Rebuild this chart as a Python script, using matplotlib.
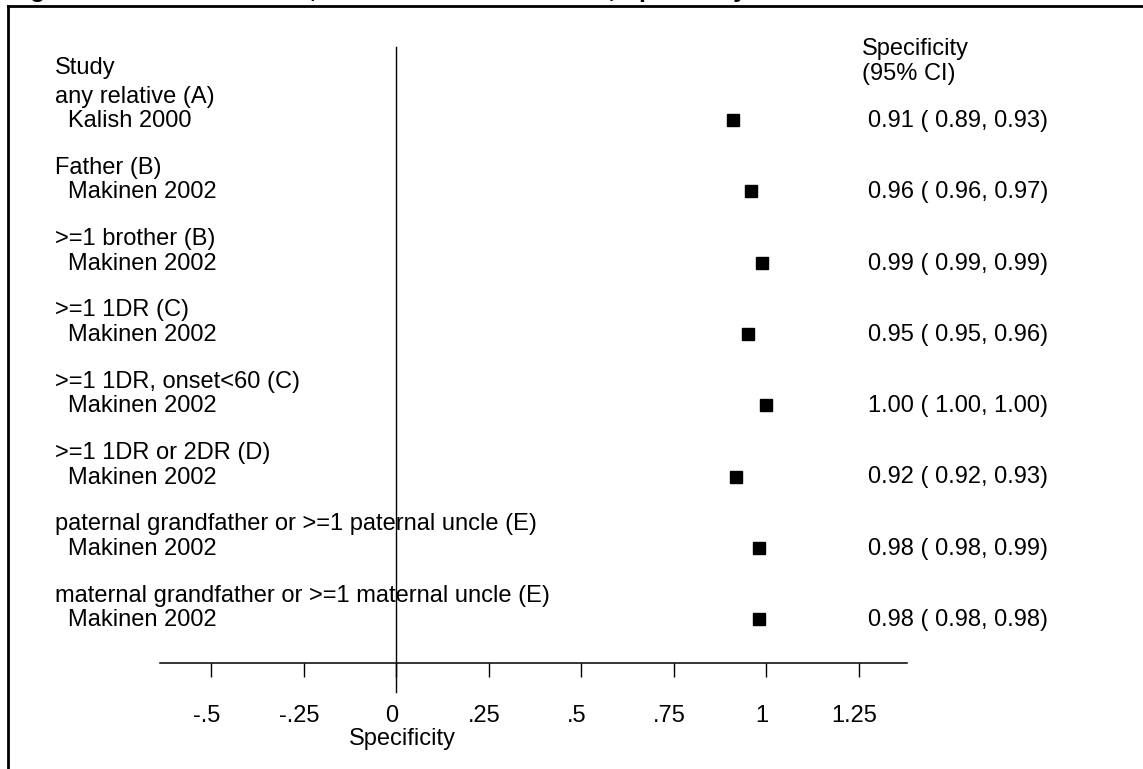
import matplotlib
matplotlib.use("Agg")
import matplotlib.pyplot as plt
from matplotlib.lines import Line2D
from matplotlib.transforms import ScaledTranslation

plt.rcParams['font.family'] = ['Liberation Sans', 'DejaVu Sans']

# ---- data ----
groups = ["any relative (A)", "Father (B)", ">=1 brother (B)", ">=1 1DR (C)",
          ">=1 1DR, onset<60 (C)", ">=1 1DR or 2DR (D)",
          "paternal grandfather or >=1 paternal uncle (E)",
          "maternal grandfather or >=1 maternal uncle (E)"]
studies = ["Kalish 2000", "Makinen 2002", "Makinen 2002", "Makinen 2002",
           "Makinen 2002", "Makinen 2002", "Makinen 2002", "Makinen 2002"]
spec = [0.91, 0.96, 0.99, 0.95, 1.00, 0.92, 0.98, 0.98]
lo = [0.89, 0.96, 0.99, 0.95, 1.00, 0.92, 0.98, 0.98]
hi = [0.93, 0.97, 0.99, 0.96, 1.00, 0.93, 0.99, 0.98]
xticks = [-0.5, -0.25, 0, 0.25, 0.5, 0.75, 1, 1.25]
xticklabels = ["-.5", "-.25", "0", ".25", ".5", ".75", "1", "1.25"]
title = "Figure 4. Prostate Cancer, Cross-sectional Studies, Specificity"

W, H = 1143, 769
fig = plt.figure(figsize=(W / 100, H / 100), dpi=100)

# layout in pixels
ax_left, ax_right = 160, 907
ax_bottom, ax_top = 663, 40
x0_px, x1_px = 396, 766  # pixel of data 0 and 1
scale = x1_px - x0_px
xmin = (ax_left - x0_px) / scale
xmax = (ax_right - x0_px) / scale

ax = fig.add_axes([ax_left / W, 1 - ax_bottom / H, (ax_right - ax_left) / W,
                   (ax_bottom - ax_top) / H])
ax.set_xlim(xmin, xmax)
ax.set_ylim(ax_bottom, ax_top)  # y in pixel-like units, downward
for s in ["top", "right", "left"]:
    ax.spines[s].set_visible(False)
ax.spines["bottom"].set_linewidth(1.1)
ax.set_yticks([])
ax.set_xticks(xticks)
ax.set_xticklabels(xticklabels, fontsize=17)
ax.tick_params(axis="x", direction="out", length=10, width=1.0, pad=20)
off = ScaledTranslation(-4 / 100, 0, fig.dpi_scale_trans)
for lab in ax.get_xticklabels():
    lab.set_transform(lab.get_transform() + off)
ax.patch.set_visible(False)

# vertical reference line at 0
ax.plot([0, 0], [47, 692], color="black", lw=1.0, clip_on=False)

step = 71.3
row_y = [120 + i * step for i in range(len(spec))]
ax.plot(spec, row_y, linestyle="none", marker="s", ms=8.5, color="black",
        clip_on=False)

# overlay for text
ov = fig.add_axes([0, 0, 1, 1])
ov.set_xlim(0, W)
ov.set_ylim(H, 0)
ov.axis("off")
ov.patch.set_visible(False)

fs = 17
ov.text(55, 74, "Study", fontsize=fs, va="baseline", ha="left")
ov.text(862, 55.5, "Specificity", fontsize=fs, va="baseline", ha="left")
ov.text(862, 80, "(95% CI)", fontsize=fs, va="baseline", ha="left")
for i, (g, st, v, l, h) in enumerate(zip(groups, studies, spec, lo, hi)):
    yb = 127 + i * step
    ov.text(55, yb - 24.5, g, fontsize=fs, va="baseline", ha="left")
    ov.text(68, yb, st, fontsize=fs, va="baseline", ha="left")
    ov.text(868, yb, f"{v:.2f} ( {l:.2f}, {h:.2f})", fontsize=fs,
            va="baseline", ha="left")

ov.text(402, 745, "Specificity", fontsize=fs, va="baseline", ha="center")

# frame and cut-off title
ov.add_line(Line2D([8, W], [6, 6], color="black", lw=2.0))
ov.add_line(Line2D([8, 8], [6, H], color="black", lw=2.0))
ov.text(8, -3, title, fontsize=18, fontweight="bold", va="baseline",
        ha="left", clip_on=False)

fig.savefig("out.png", dpi=100)
